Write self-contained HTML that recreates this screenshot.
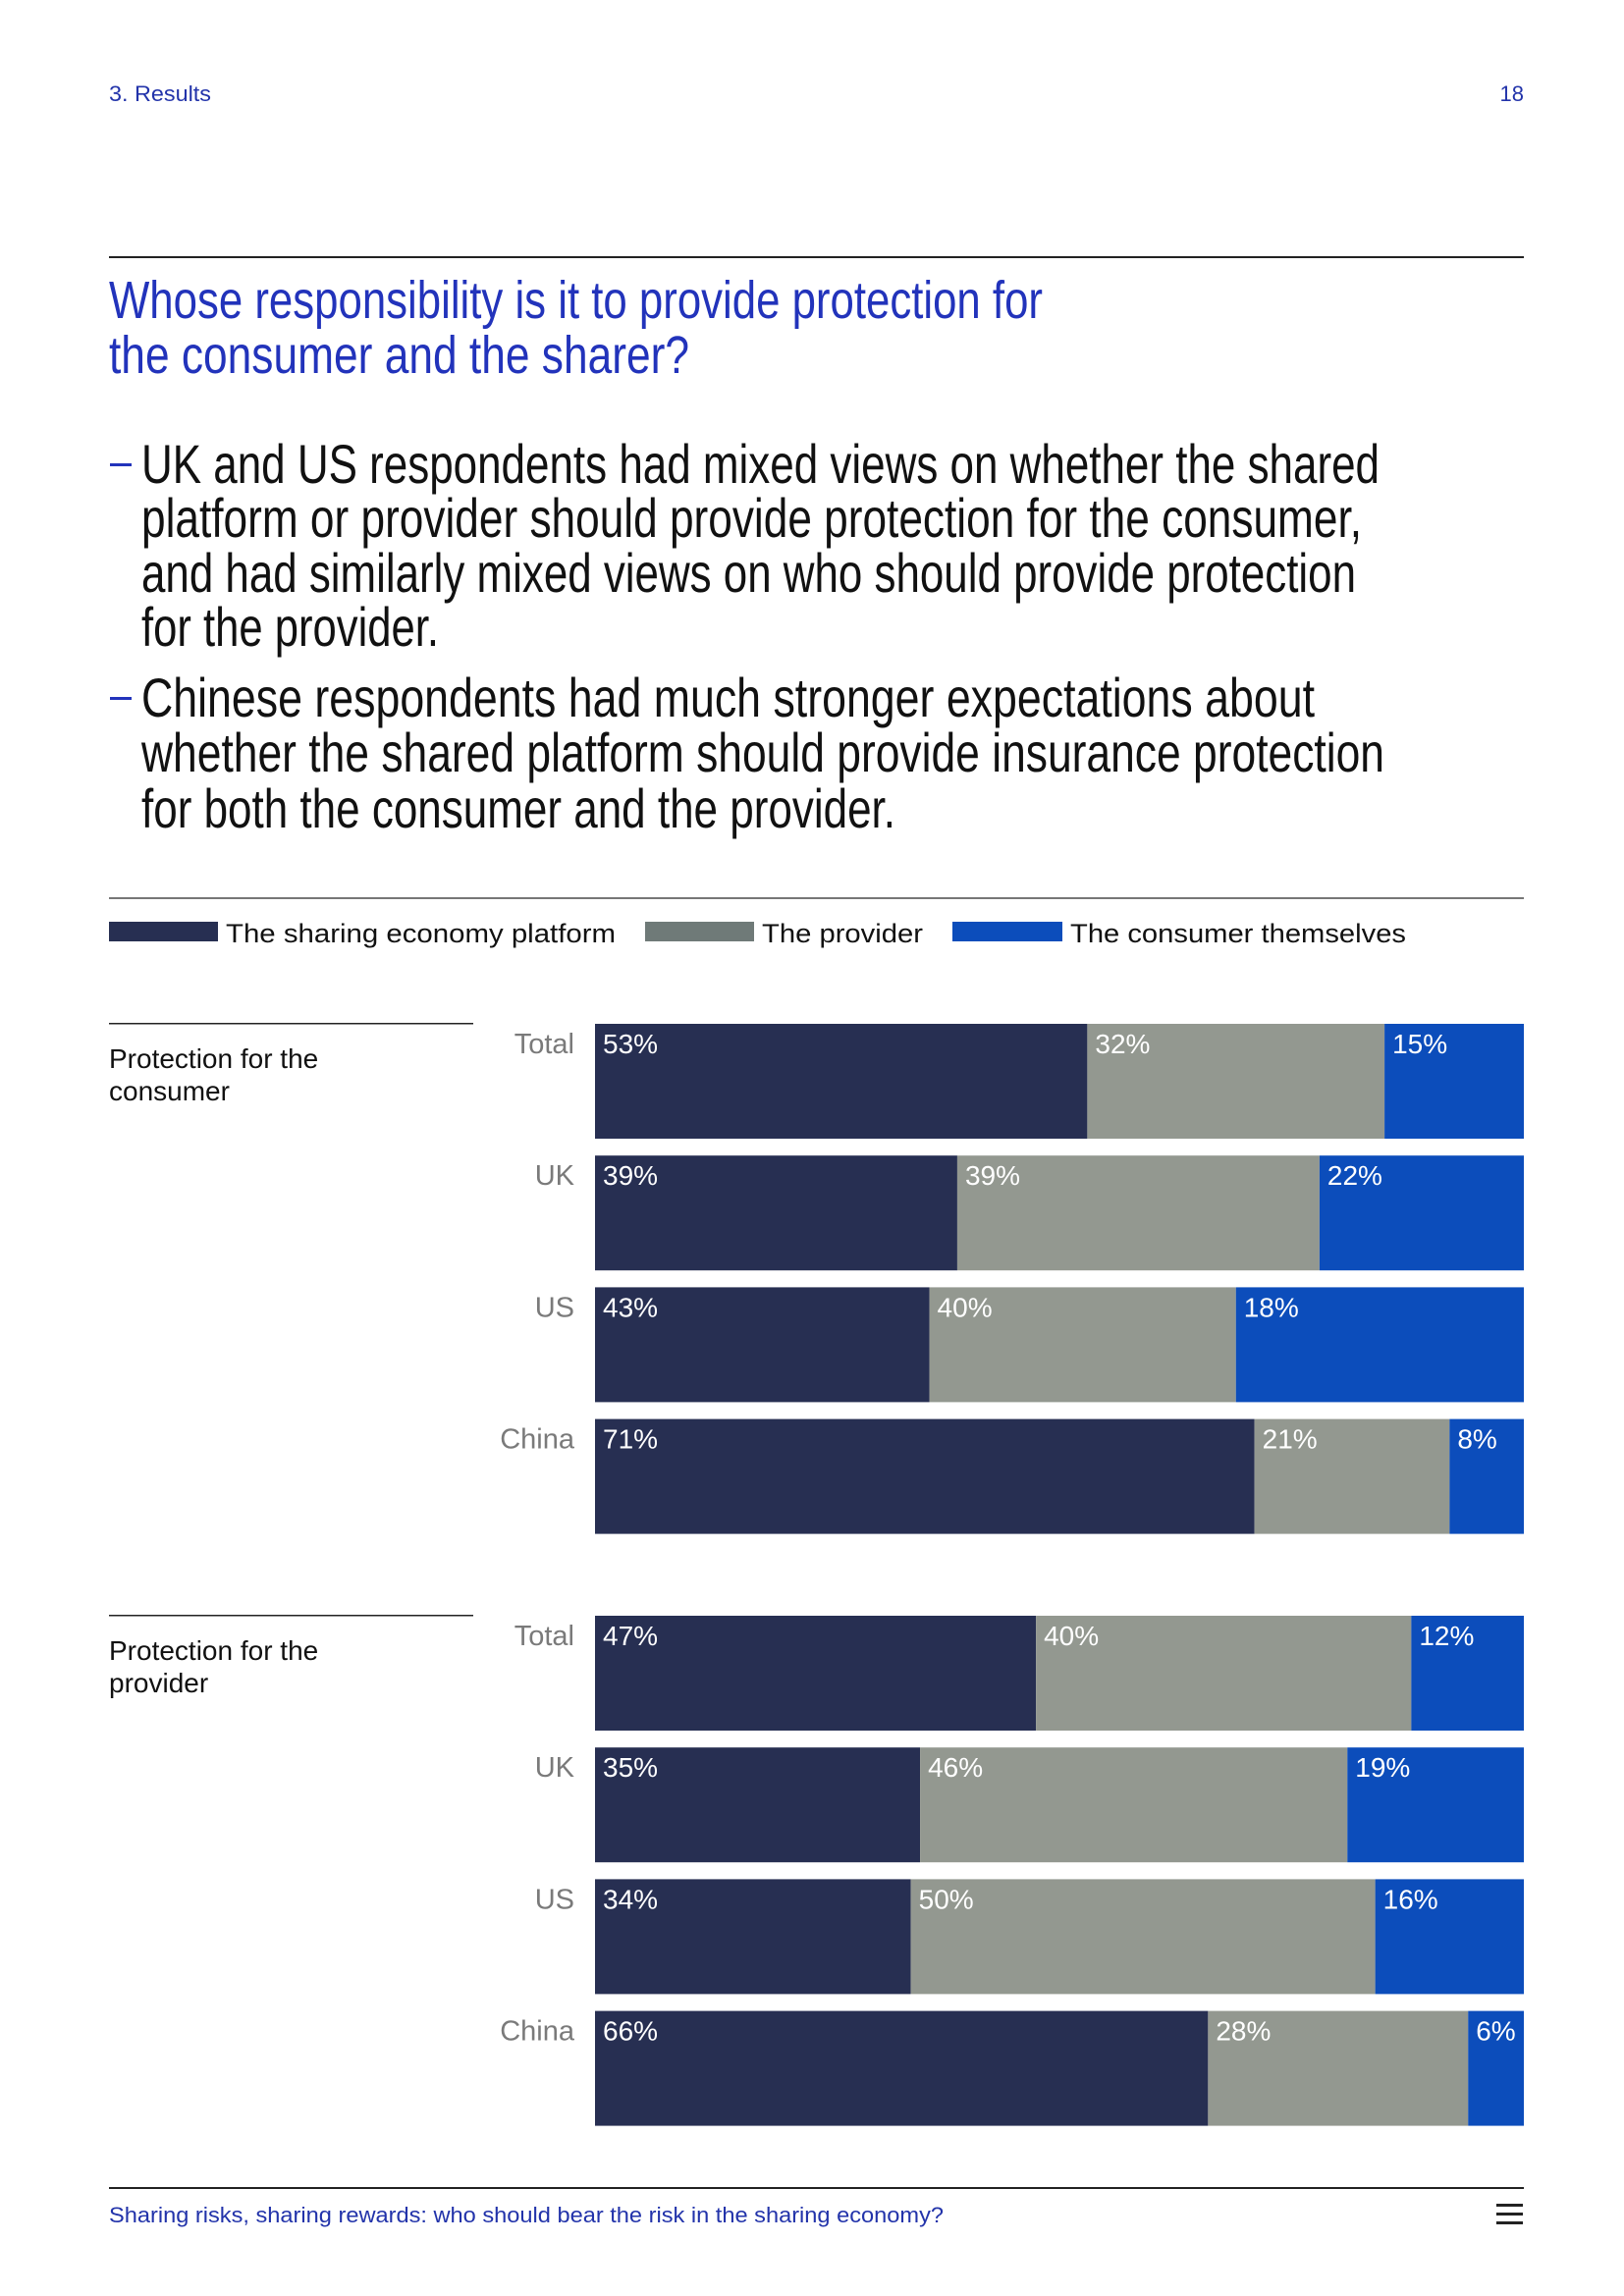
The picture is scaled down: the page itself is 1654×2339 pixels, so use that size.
<!DOCTYPE html>
<html><head><meta charset="utf-8"><style>
html,body{margin:0;padding:0;background:#fff}
svg{display:block;font-family:"Liberation Sans",sans-serif}
</style></head><body>
<svg id="page" width="1654" height="2339" viewBox="0 0 1654 2339" xmlns="http://www.w3.org/2000/svg">
<text x="111" y="103" font-size="22" fill="#2233aa" textLength="104" lengthAdjust="spacingAndGlyphs">3. Results</text>
<text x="1552" y="103" font-size="22" fill="#2233aa" text-anchor="end">18</text>
<rect x="111" y="261" width="1441" height="2" fill="#222"/>
<g fill="#2233bb" font-size="54">
<text x="111" y="324" textLength="951" lengthAdjust="spacingAndGlyphs">Whose responsibility is it to provide protection for</text>
<text x="111" y="380" textLength="591" lengthAdjust="spacingAndGlyphs">the consumer and the sharer?</text>
</g>
<g fill="#111" font-size="56">
<rect x="112" y="472" width="22" height="3" fill="#2233bb"/>
<text x="144" y="492" textLength="1261" lengthAdjust="spacingAndGlyphs">UK and US respondents had mixed views on whether the shared</text>
<text x="144" y="547" textLength="1243" lengthAdjust="spacingAndGlyphs">platform or provider should provide protection for the consumer,</text>
<text x="144" y="603" textLength="1237" lengthAdjust="spacingAndGlyphs">and had similarly mixed views on who should provide protection</text>
<text x="144" y="658" textLength="303" lengthAdjust="spacingAndGlyphs">for the provider.</text>
<rect x="112" y="710" width="22" height="3" fill="#2233bb"/>
<text x="144" y="730" textLength="1195" lengthAdjust="spacingAndGlyphs">Chinese respondents had much stronger expectations about</text>
<text x="144" y="786" textLength="1266" lengthAdjust="spacingAndGlyphs">whether the shared platform should provide insurance protection</text>
<text x="144" y="843" textLength="768" lengthAdjust="spacingAndGlyphs">for both the consumer and the provider.</text>
</g>
<rect x="111" y="914" width="1441" height="2" fill="#777"/>
<g font-size="27" fill="#111">
<rect x="111" y="939" width="111" height="20" fill="#272f52"/>
<text x="230" y="960" textLength="397" lengthAdjust="spacingAndGlyphs">The sharing economy platform</text>
<rect x="657" y="939" width="111" height="20" fill="#6f7a78"/>
<text x="776" y="960" textLength="164" lengthAdjust="spacingAndGlyphs">The provider</text>
<rect x="970" y="939" width="112" height="20" fill="#0c4dbb"/>
<text x="1090" y="960" textLength="342" lengthAdjust="spacingAndGlyphs">The consumer themselves</text>
</g>
<g id="chart"></g>
<rect x="111" y="2228" width="1441" height="2" fill="#222"/>
<text x="111" y="2264" font-size="22" fill="#2233aa" textLength="850" lengthAdjust="spacingAndGlyphs">Sharing risks, sharing rewards: who should bear the risk in the sharing economy?</text>
<g fill="#222">
<rect x="1524" y="2245" width="27" height="3"/><rect x="1524" y="2254" width="27" height="3"/><rect x="1524" y="2263" width="27" height="3"/>
</g>
</svg>
<script>
const categories = ["Total","UK","US","China"];
const groupTitles = [["Protection for the","consumer"],["Protection for the","provider"]];
// printed values
const platformValues = [[53,39,43,71],[47,35,34,66]];
const providerValues = [[32,39,40,21],[40,46,50,28]];
const consumerValues = [[15,22,18,8],[12,19,16,6]];
// segment extents as drawn in the source chart (the US consumer bar is drawn differently from its labels)
const platformBarShare = [[53,39,36,71],[47,35,34,66]];
const providerBarShare = [[32,39,33,21],[40,46,50,28]];
const consumerBarShare = [[15,22,31,8],[12,19,16,6]];

const NS = "http://www.w3.org/2000/svg";
const chart = document.getElementById('chart');
const x0 = 606, x1 = 1552;
const groupTop = [1043, 1646];
const rowStep = 134.2, barH = 117;
const colors = ["#272f52", "#939890", "#0c4dbb"];
const seriesNames = ["platform","provider","consumer"];
function xScale(v){ return x0 + (x1 - x0) * v / 100; }
function mk(tag, attrs){ const e = document.createElementNS(NS, tag); for (const k in attrs) e.setAttribute(k, attrs[k]); return e; }

groupTitles.forEach((lines, g) => {
  const top = groupTop[g];
  const rule = mk('rect', {x:111, y:top-1, width:371, height:1.5, fill:'#222'});
  
  
  chart.appendChild(rule);
  lines.forEach((ln, i) => {
    const t = mk('text', {x:111, y:top + 45 + i*33, 'font-size':28, fill:'#111'});
    
    
    t.textContent = ln;
    chart.appendChild(t);
  });
  categories.forEach((cat, r) => {
    const y = top + r * rowStep;
    const lbl = mk('text', {x:585, y:y+30, 'font-size':29, fill:'#7a7a7a', 'text-anchor':'end'});
    
    
    lbl.textContent = cat;
    chart.appendChild(lbl);
    const vals = [platformValues[g][r], providerValues[g][r], consumerValues[g][r]];
    const shares = [platformBarShare[g][r], providerBarShare[g][r], consumerBarShare[g][r]];
    const total = shares[0] + shares[1] + shares[2];
    let acc = 0;
    shares.forEach((v, s) => {
      const a = xScale(acc / total * 100), b = xScale((acc + v) / total * 100);
      const rect = mk('rect', {x:a, y:y, width:b - a, height:barH, fill:colors[s]});
      
      
      chart.appendChild(rect);
      const vt = mk('text', {x:a + 8, y:y + 30, 'font-size':28, fill:'#fff'});
      
      
      vt.textContent = vals[s] + '%';
      chart.appendChild(vt);
      acc += v;
    });
  });
});
</script>
</body></html>
